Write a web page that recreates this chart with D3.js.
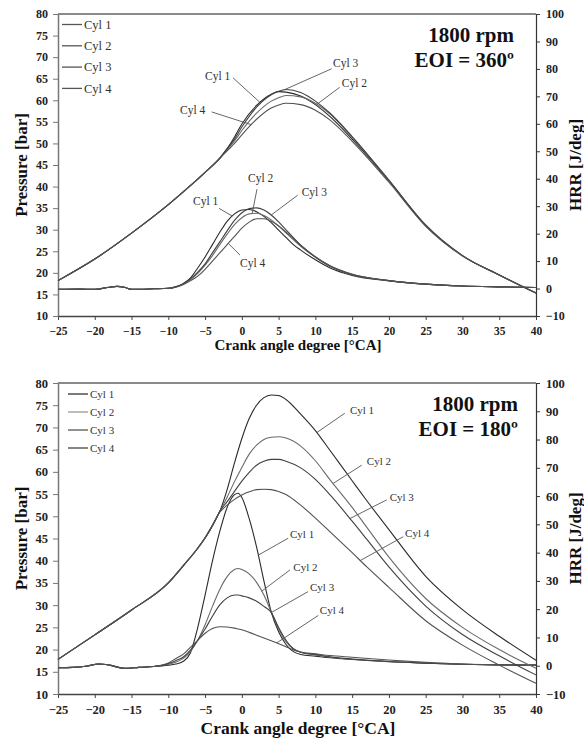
<!DOCTYPE html>
<html>
<head>
<meta charset="utf-8">
<script src="https://cdn.jsdelivr.net/npm/d3@7"></script>
<style>
  body { margin: 0; background: #fff; }
  svg { display: block; }
  text { font-family: "Liberation Serif", "Times New Roman", serif; }
</style>
</head>
<body>
<svg width="584" height="738"></svg>
<script>
// ---- data ----
const cylinders = ['Cyl 1', 'Cyl 2', 'Cyl 3', 'Cyl 4'];
const caTicks = [-25, -20, -15, -10, -5, 0, 5, 10, 15, 20, 25, 30, 35, 40];
const pressureTicks = [10, 15, 20, 25, 30, 35, 40, 45, 50, 55, 60, 65, 70, 75, 80];
const hrrTicks = [-10, 0, 10, 20, 30, 40, 50, 60, 70, 80, 90, 100];

// EOI = 360 panel
const eoi360PressCA = [-25, -20, -15, -10, -7, -5, -3, -2, -1, 0, 2, 4, 5, 6, 8, 10, 12, 15, 20, 25, 30, 35, 40];
const eoi360Pressure = [
  [18.2, 23.2, 29.2, 35.8, 40.2, 43.3, 46.6, 48.8, 51.5, 54.5, 58.8, 61.4, 62, 61.9, 61, 59, 56.2, 51, 41.3, 31, 24, 19.5, 15.3],
  [18.2, 23.2, 29.2, 35.8, 40.2, 43.3, 46.6, 48.6, 50.6, 53, 57, 59.8, 60.6, 61.1, 60.8, 59.3, 56.8, 51.4, 41.4, 31, 24, 19.5, 15.3],
  [18.2, 23.2, 29.2, 35.8, 40.2, 43.3, 46.6, 48.8, 51, 53.8, 58.4, 61.3, 62.1, 62.5, 61.8, 59.8, 57, 51.6, 41.5, 31.1, 24, 19.5, 15.3],
  [18.2, 23.2, 29.2, 35.8, 40.2, 43.3, 46.5, 48.3, 50, 52, 55.6, 58.2, 58.9, 59.3, 59, 57.7, 55.4, 50.5, 41, 30.8, 23.9, 19.5, 15.3]
];
const eoi360HrrCA = [-25, -22, -20, -18, -17, -16, -15, -12, -10, -9, -8, -7, -6, -5, -4, -3, -2, -1, 0, 1, 2, 3, 4, 5, 6, 7, 8, 10, 12, 15, 20, 25, 30, 35, 40];
const eoi360Hrr = [
  [-0.3, -0.2, -0.3, 0.5, 0.8, 0.5, -0.3, -0.1, 0.1, 0.6, 1.8, 3.8, 7.5, 11.5, 16, 20.5, 24.5, 27.2, 28.6, 28.8, 28, 26.3, 24, 21.3, 18.6, 16, 14, 10.5, 7.5, 4.8, 2.8, 1.6, 0.9, 0.6, 0.4],
  [-0.3, -0.2, -0.3, 0.5, 0.8, 0.5, -0.3, -0.1, 0.1, 0.6, 1.6, 3.2, 5.5, 8.5, 12, 16, 19.8, 23.3, 25.8, 27.2, 27.4, 26.6, 25, 22.8, 20.3, 17.8, 15.4, 11.4, 8, 5, 2.9, 1.6, 0.9, 0.6, 0.4],
  [-0.3, -0.2, -0.3, 0.5, 0.8, 0.5, -0.3, -0.1, 0.1, 0.6, 1.7, 3.5, 6, 9, 13, 17, 21, 24.8, 27.6, 29.1, 29.4, 28.6, 26.8, 24.3, 21.4, 18.5, 15.8, 11.5, 8.2, 5.2, 2.9, 1.6, 0.9, 0.6, 0.4],
  [-0.3, -0.2, -0.3, 0.5, 0.8, 0.5, -0.3, -0.1, 0.1, 0.5, 1.4, 2.8, 4.5, 7, 10, 13, 16, 19, 22, 24.2, 25.4, 25.4, 24.5, 22.8, 20.6, 18.2, 15.8, 11.6, 8.3, 5.2, 2.9, 1.6, 0.9, 0.6, 0.4]
];

// EOI = 180 panel
const eoi180PressCA = [-25, -20, -15, -10, -8, -6, -5, -4, -3, -2, -1, 0, 1, 2, 3, 4, 5, 6, 8, 10, 12, 15, 17, 20, 25, 30, 35, 40];
const eoi180Pressure = [
  [17.8, 23.3, 28.9, 35, 38.8, 42.8, 45.1, 47.9, 51.1, 56, 62, 67.5, 72, 75, 76.7, 77.3, 77.2, 76.3, 73, 69.3, 64.8, 58, 53.5, 47, 36.5, 29, 23, 17.6],
  [17.8, 23.3, 28.9, 35, 38.8, 42.8, 45.1, 47.9, 51.1, 54.3, 57.8, 61, 64, 66, 67.3, 67.8, 67.9, 67.6, 65.8, 62.5, 58.2, 52, 47.5, 40.8, 31.5, 25, 20, 15.8],
  [17.8, 23.3, 28.9, 35, 38.8, 42.8, 45.1, 47.9, 51.1, 53.3, 55.6, 57.9, 59.9, 61.5, 62.4, 62.8, 62.8, 62.4, 60.9, 58.3, 54.8, 48.9, 44.8, 38.6, 29.8, 23.4, 18.6, 14.3],
  [17.8, 23.3, 28.9, 35, 38.8, 42.8, 45.2, 48, 50.9, 52.5, 53.8, 54.8, 55.5, 56, 56.1, 56, 55.6, 54.9, 52.5, 49.6, 46.5, 41.8, 38.6, 34, 26.5, 21, 16.5, 12.4]
];
const eoi180HrrCA = [-25, -23, -21, -19.5, -18, -16, -14, -12, -10, -9, -8, -7, -6, -5, -4, -3, -2, -1, -0.5, 0, 1, 2, 3, 4, 5, 6, 7, 8, 10, 12, 15, 20, 25, 30, 35, 40];
const eoi180Hrr = [
  [-0.7, -0.6, -0.1, 0.6, 0.2, -0.9, -0.6, -0.3, 0.2, 0.6, 1.5, 4.5, 13.5, 25, 37, 47.5, 56, 60.5, 61, 59.5, 52, 42, 30, 19, 12, 7.5, 5, 4, 3.4, 2.8, 2.2, 1.4, 0.9, 0.5, 0.3, 0.2],
  [-0.7, -0.6, -0.1, 0.6, 0.2, -0.9, -0.6, -0.3, 0.5, 1.2, 2.5, 5, 9, 14.5, 21, 27, 31.5, 34, 34.4, 34, 32.5, 29.5, 25, 19, 13, 8.5, 6, 4.8, 3.8, 3, 2.3, 1.5, 0.9, 0.5, 0.3, 0.2],
  [-0.7, -0.6, -0.1, 0.6, 0.2, -0.9, -0.6, -0.3, 0.8, 1.8, 3, 5.5, 9, 13, 17.5, 21.5, 24, 25, 25, 24.7, 24, 22.8, 21, 18.8, 13.5, 9, 6, 4.8, 4, 3.2, 2.4, 1.5, 0.9, 0.5, 0.3, 0.2],
  [-0.7, -0.6, -0.1, 0.6, 0.2, -0.9, -0.6, -0.3, 1, 2.5, 4, 6.5, 9, 11.5, 13.2, 13.8, 13.7, 13.3, 13, 12.7, 11.8, 10.8, 9.8, 8.8, 7.8, 6.7, 5.6, 4.8, 4.2, 3.6, 3, 2, 1.2, 0.6, 0.35, 0.2]
];

// curve call-outs: text position and leader start in data units, leader ends on the curve at CA "at"
const eoi360PressNotes = [
  {cyl: 0, tx: -5.0, ty: 64.7, lx: -1.2, ly: 65.2, at: 2.5},
  {cyl: 3, tx: -8.4, ty: 56.8, lx: -4.1, ly: 57.3, at: 1.3},
  {cyl: 2, tx: 12.4, ty: 67.7, lx: 12.2, ly: 67.3, at: 5.7},
  {cyl: 1, tx: 13.6, ty: 63.1, lx: 13.3, ly: 63.0, at: 10.2}
];
const eoi360HrrNotes = [
  {cyl: 1, tx: 0.84, ty: 38.8, lx: 2.06, ly: 36.2, at: 1.4},
  {cyl: 0, tx: -6.64, ty: 30.5, lx: -3.1, ly: 29.2, at: -1.3},
  {cyl: 2, tx: 8.14, ty: 33.8, lx: 7.6, ly: 34, at: 4.0},
  {cyl: 3, tx: -0.25, ty: 7.7, lx: -0.25, ly: 12.2, at: -1.85}
];
const eoi180PressNotes = [
  {cyl: 0, tx: 14.7, ty: 73, lx: 14.0, ly: 73.2, at: 10.2},
  {cyl: 1, tx: 17.0, ty: 61.6, lx: 16.3, ly: 61.5, at: 12.4},
  {cyl: 2, tx: 20.1, ty: 53.5, lx: 19.7, ly: 53.7, at: 14.7},
  {cyl: 3, tx: 22.2, ty: 45.3, lx: 21.95, ly: 45.4, at: 16.1}
];
const eoi180HrrNotes = [
  {cyl: 0, tx: 6.55, ty: 45.2, lx: 6.3, ly: 45.1, at: 2.24},
  {cyl: 1, tx: 7.0, ty: 33.6, lx: 6.55, ly: 33.9, at: 2.7},
  {cyl: 2, tx: 9.27, ty: 26.5, lx: 9.0, ly: 26.2, at: 4.0},
  {cyl: 3, tx: 10.6, ty: 18.3, lx: 10.4, ly: 17.8, at: 4.74}
];

const svg = d3.select('svg');
const plotLeft = 58, plotRight = 536;
const lineColors = ['#2a2a2a', '#6a6a6a', '#404040', '#525252'];

function interp(xs, ys, v) {
  const i = Math.max(1, Math.min(xs.length - 1, d3.bisectLeft(xs, v)));
  const t = (v - xs[i - 1]) / (xs[i] - xs[i - 1]);
  return ys[i - 1] + t * (ys[i] - ys[i - 1]);
}

function drawPanel(p) {
  const g = svg.append('g');
  const x = d3.scaleLinear().domain([-25, 40]).range([plotLeft, plotRight]);
  const yP = d3.scaleLinear().domain([10, 80]).range([p.bottom, p.top]);
  const yH = d3.scaleLinear().domain([-10, 100]).range([p.bottom, p.top]);

  // frame top line
  g.append('line')
      .attr('x1', plotLeft).attr('x2', plotRight)
      .attr('y1', p.top).attr('y2', p.top)
      .attr('stroke', '#8a8a8a').attr('stroke-width', 1.8);

  const styleAxis = (sel, color, w, fs) => {
    sel.select('.domain').attr('stroke', color).attr('stroke-width', w);
    sel.selectAll('.tick line').attr('stroke', color);
    sel.selectAll('.tick text')
        .attr('fill', '#222')
        .style('font-weight', 'bold')
        .style('font-size', fs + 'px');
  };

  g.append('g')
      .attr('transform', 'translate(0,' + p.bottom + ')')
      .call(d3.axisBottom(x).tickValues(caTicks).tickSize(4).tickSizeOuter(0).tickPadding(p.xPad))
      .call(styleAxis, '#444', 1.5, p.xTickFont);

  g.append('g')
      .attr('transform', 'translate(' + plotLeft + ',0)')
      .call(d3.axisLeft(yP).tickValues(pressureTicks).tickSize(5).tickSizeOuter(0).tickPadding(5))
      .call(styleAxis, '#777', 1.5, p.yTickFont);

  g.append('g')
      .attr('transform', 'translate(' + plotRight + ',0)')
      .call(d3.axisRight(yH).tickValues(hrrTicks).tickSize(4).tickSizeOuter(0).tickPadding(6))
      .call(styleAxis, '#333', 1.2, p.yTickFont);

  // curves
  const pLine = d3.line().curve(d3.curveMonotoneX)
      .x(d => x(d[0])).y(d => yP(d[1]));
  const hLine = d3.line().curve(d3.curveMonotoneX)
      .x(d => x(d[0])).y(d => yH(d[1]));

  g.append('g').selectAll('path').data(p.hrr).join('path')
      .attr('d', s => hLine(p.hrrCA.map((c, i) => [c, s[i]])))
      .attr('fill', 'none')
      .attr('stroke', (s, i) => lineColors[i])
      .attr('stroke-width', 1.1);

  g.append('g').selectAll('path').data(p.press).join('path')
      .attr('d', s => pLine(p.pressCA.map((c, i) => [c, s[i]])))
      .attr('fill', 'none')
      .attr('stroke', (s, i) => lineColors[i])
      .attr('stroke-width', 1.1);

  // call-outs
  const notes = (list, y, ca, series) => {
    list.forEach(n => {
      g.append('line')
          .attr('x1', x(n.lx)).attr('y1', y(n.ly))
          .attr('x2', x(n.at)).attr('y2', y(interp(ca, series[n.cyl], n.at)))
          .attr('stroke', '#555').attr('stroke-width', 0.9);
      g.append('text')
          .attr('x', x(n.tx)).attr('y', y(n.ty))
          .attr('fill', '#333')
          .style('font-size', p.noteFont + 'px')
          .text(cylinders[n.cyl]);
    });
  };
  notes(p.pressNotes, yP, p.pressCA, p.press);
  notes(p.hrrNotes, yH, p.hrrCA, p.hrr);

  // legend
  const lg = g.append('g').selectAll('g').data(cylinders).join('g')
      .attr('transform', (d, i) => 'translate(' + p.legX + ',' + (p.legY + i * p.legStep) + ')');
  lg.append('line')
      .attr('x1', 0).attr('x2', 20)
      .attr('stroke', (d, i) => p.legColors[i]).attr('stroke-width', 1.3);
  lg.append('text')
      .attr('x', 22).attr('dy', '0.35em')
      .attr('fill', '#333')
      .style('font-size', p.legFont + 'px')
      .text(d => d);

  // condition label
  const cond = g.append('text')
      .attr('text-anchor', 'end')
      .style('font-weight', 'bold')
      .style('font-size', '21px')
      .attr('fill', '#111');
  cond.append('tspan').attr('x', p.condX).attr('y', p.top + 28).text('1800 rpm');
  cond.append('tspan').attr('x', p.condX).attr('y', p.top + 53).text(p.eoi);

  // axis titles
  const mid = (p.top + p.bottom) / 2;
  g.append('text')
      .attr('transform', 'translate(27,' + mid + ') rotate(-90)')
      .attr('text-anchor', 'middle')
      .style('font-weight', 'bold').style('font-size', '17px')
      .attr('fill', '#111')
      .text('Pressure [bar]');
  g.append('text')
      .attr('transform', 'translate(581,' + mid + ') rotate(-90)')
      .attr('text-anchor', 'middle')
      .style('font-weight', 'bold').style('font-size', '17px')
      .attr('fill', '#111')
      .text('HRR [J/deg]');
  g.append('text')
      .attr('x', 298).attr('y', p.xTitleY)
      .attr('text-anchor', 'middle')
      .style('font-weight', 'bold').style('font-size', p.xTitleFont + 'px')
      .attr('fill', '#111')
      .text('Crank angle degree [°CA]');
}

drawPanel({
  top: 14, bottom: 316,
  pressCA: eoi360PressCA, press: eoi360Pressure,
  hrrCA: eoi360HrrCA, hrr: eoi360Hrr,
  pressNotes: eoi360PressNotes, hrrNotes: eoi360HrrNotes,
  xPad: 7, xTickFont: 11.5, yTickFont: 12, noteFont: 11.5,
  legX: 62, legY: 24.5, legStep: 21.3, legFont: 12.5,
  legColors: ['#555', '#555', '#555', '#555'],
  condX: 514, eoi: 'EOI = 360º',
  xTitleY: 350, xTitleFont: 15
});

drawPanel({
  top: 383, bottom: 694,
  pressCA: eoi180PressCA, press: eoi180Pressure,
  hrrCA: eoi180HrrCA, hrr: eoi180Hrr,
  pressNotes: eoi180PressNotes, hrrNotes: eoi180HrrNotes,
  xPad: 7.5, xTickFont: 12.5, yTickFont: 12.5, noteFont: 11,
  legX: 68, legY: 394, legStep: 18, legFont: 11,
  legColors: ['#333', '#999', '#555', '#444'],
  condX: 518, eoi: 'EOI = 180º',
  xTitleY: 734, xTitleFont: 17.5
});
</script>
</body>
</html>
